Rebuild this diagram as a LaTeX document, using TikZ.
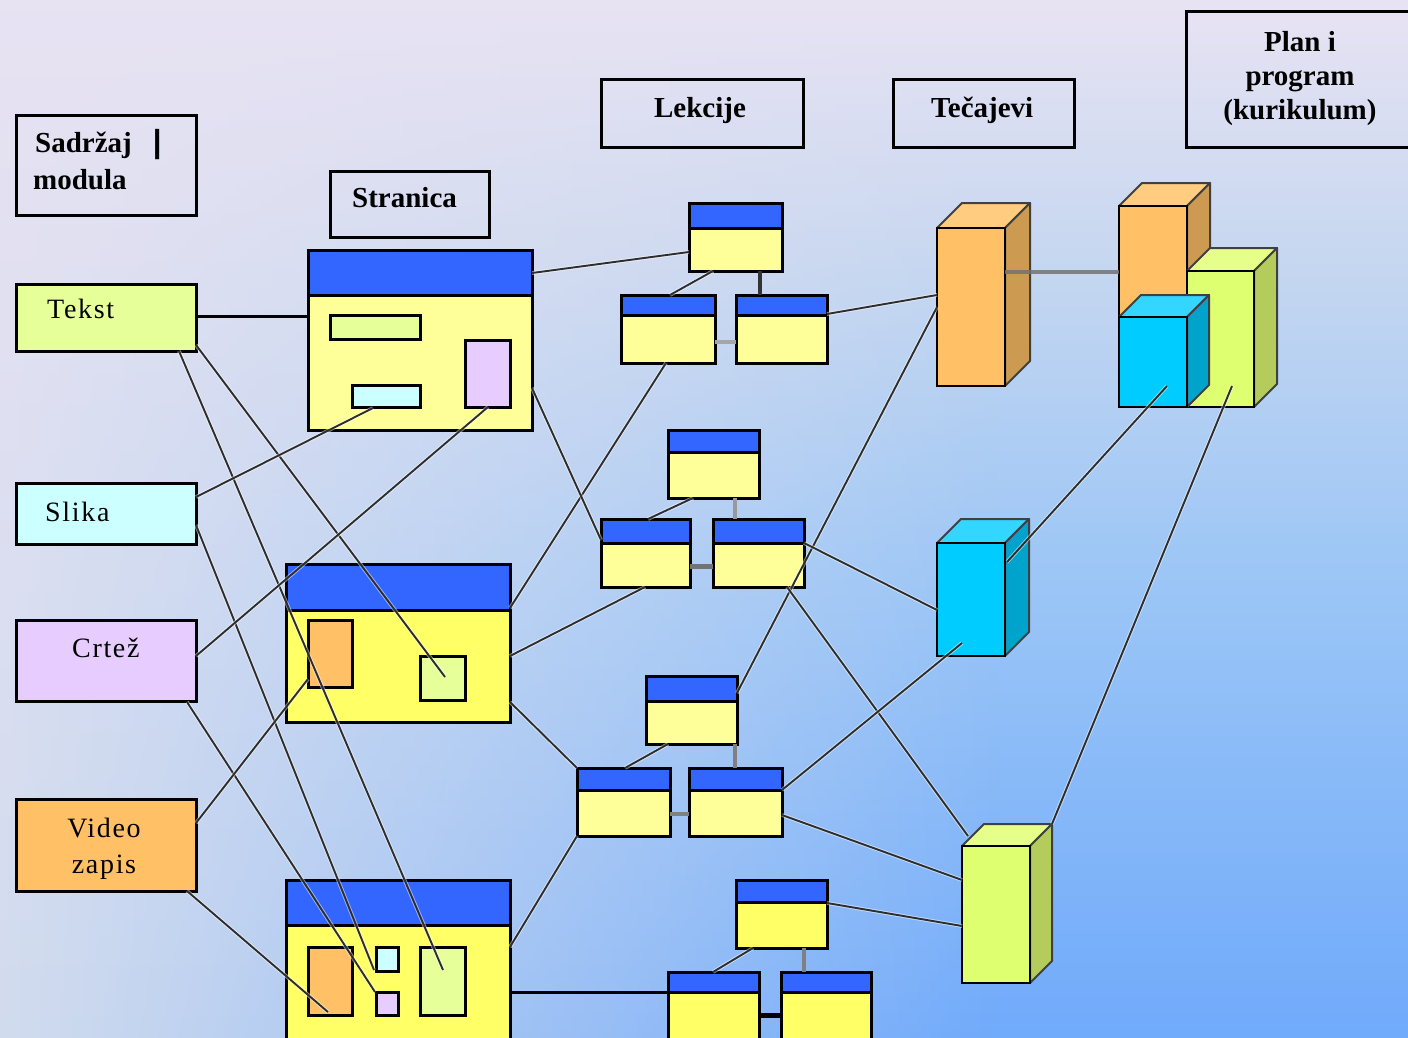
\documentclass[tikz,border=0pt]{standalone}
\usepackage{fontspec}
\setmainfont{Liberation Serif}
\newfontfamily\lblfont[LetterSpace=6]{Liberation Serif}
\usetikzlibrary{calc,fadings}
\definecolor{bgA}{HTML}{E8E3F3}
\definecolor{bgB}{HTML}{C6D7F0}
\definecolor{bgC}{HTML}{9CC6F6}
\definecolor{bgD}{HTML}{70AAFB}
\definecolor{bgL}{HTML}{D2DCEE}
\definecolor{hdrblue}{HTML}{3366FF}
\definecolor{yelA}{HTML}{FFFF99}
\definecolor{yelB}{HTML}{FFFF66}
\definecolor{lgreen}{HTML}{E6FF99}
\definecolor{lcyan}{HTML}{CCFFFF}
\definecolor{llav}{HTML}{E6CCFF}
\definecolor{orng}{HTML}{FFC066}
\definecolor{orTop}{HTML}{FFCC80}
\definecolor{orSide}{HTML}{CC9A50}
\definecolor{cyFront}{HTML}{00CCFF}
\definecolor{cyTop}{HTML}{33D6FF}
\definecolor{cySide}{HTML}{00A3CC}
\definecolor{grFront}{HTML}{DDFF70}
\definecolor{grTop}{HTML}{E6FF8A}
\definecolor{grSide}{HTML}{B3CC5C}
\definecolor{wirec}{HTML}{2E2E2E}
\pgfdeclareverticalshading{bgshade}{100bp}{color(0bp)=(bgD); color(25bp)=(bgD); color(47.5bp)=(bgC); color(62.5bp)=(bgB); color(75bp)=(bgA); color(100bp)=(bgA)}
\tikzset{
  frame/.style={draw=black, line width=3, inner sep=0, outer sep=0, anchor=north west},
  hdrtxt/.style={font=\bfseries\fontsize{29}{34}\selectfont, inner sep=0},
  lbltxt/.style={font=\lblfont\fontsize{28}{36}\selectfont, inner sep=0},
  wire/.style={draw=wirec, line width=1.9, preaction={draw=white, draw opacity=0.5, line width=3.8}},
  thickline/.style={draw=black, line width=3},
  facet/.style={draw=black!75, line width=2, line join=round},
}
\newcommand\boxnode[6][]{\node[frame,minimum width={#5-#3},minimum height={#6-#4},#1] (#2) at (#3,#4) {};}
\newcommand\pagebox[7]{\boxnode[fill=#7]{#1}{#2}{#3}{#4}{#5}\boxnode[fill=hdrblue]{#1h}{#2}{#3}{#4}{#6}}
\newcommand\cuboid[9]{%
  \fill[#8, facet] (#2,#3) -- ({#2+#6},{#3-#6}) -- ({#4+#6},{#3-#6}) -- (#4,#3) -- cycle;
  \fill[#9, facet] (#4,#3) -- ({#4+#6},{#3-#6}) -- ({#4+#6},{#5-#6}) -- (#4,#5) -- cycle;
  \boxnode[fill=#7, line width=2.5]{#1}{#2}{#3}{#4}{#5}}
\begin{document}
\begin{tikzpicture}[x=1pt,y=-1pt]
\useasboundingbox (0,0) rectangle (1408,1038);
% background
\shade[shading=bgshade] (0,0) rectangle (1408,1038);
\shade[top color=bgA, bottom color=bgL, path fading=east] (0,0) rectangle (1000,1038);

% header boxes
\boxnode{H1}{16}{116}{196}{215}
\boxnode{H2}{330}{171}{489}{237}
\boxnode{H3}{601}{80}{803}{148}
\boxnode{H4}{893}{80}{1074}{148}
\boxnode{H5}{1186}{12}{1420}{148}
\node[hdrtxt, anchor=base west] (tSad) at (35,153) {Sadržaj\hspace{19pt}\scalebox{2}[1.15]{|}};
\node[hdrtxt, anchor=base west] (tMod) at (33,189) {modula};
\node[hdrtxt, anchor=base west] (tStr) at (352,207) {Stranica};
\node[hdrtxt, anchor=base] (tLek) at (700,118) {Lekcije};
\node[hdrtxt, anchor=base west] (tTec) at (931,118) {Tečajevi};
\node[hdrtxt, align=center] (tPlan) at (1300,79) {Plan i\\program\\(kurikulum)};

% content type boxes
\boxnode[fill=lgreen]{Tekst}{16}{284}{196}{351}
\boxnode[fill=lcyan]{Slika}{16}{483}{196}{544}
\boxnode[fill=llav]{Crtez}{16}{620}{196}{701}
\boxnode[fill=orng]{Video}{16}{799}{196}{891}
\node[lbltxt, anchor=base west] (tTek) at (47,318) {Tekst};
\node[lbltxt, anchor=base west] (tSli) at (45,521) {Slika};
\node[lbltxt, anchor=base west] (tCrt) at (72,657) {Crtež};
\node[lbltxt, align=center] (tVid) at (104,849) {Video\\zapis};

% pages
\pagebox{P1}{308}{250}{532}{430}{295}{yelA}
\boxnode[fill=lgreen]{P1g}{330}{315}{420}{339}
\boxnode[fill=lcyan]{P1c}{352}{385}{420}{407}
\boxnode[fill=llav]{P1l}{465}{340}{510}{407}
\pagebox{P2}{286}{564}{510}{722}{610}{yelB}
\boxnode[fill=orng]{P2o}{308}{620}{352}{687}
\boxnode[fill=lgreen]{P2g}{420}{656}{465}{700}
\pagebox{P3}{286}{880}{510}{1040}{925}{yelB}
\boxnode[fill=orng]{P3o}{308}{947}{352}{1015}
\boxnode[fill=lcyan]{P3c}{376}{947}{398}{971}
\boxnode[fill=llav]{P3l}{376}{992}{398}{1015}
\boxnode[fill=lgreen]{P3g}{420}{947}{465}{1015}

% lessons
\pagebox{L1t}{689}{203}{782}{271}{228}{yelA}
\pagebox{L1a}{621}{295}{715}{363}{315}{yelA}
\pagebox{L1b}{736}{295}{827}{363}{315}{yelA}
\pagebox{L2t}{668}{430}{759}{498}{452}{yelA}
\pagebox{L2a}{601}{519}{690}{587}{543}{yelA}
\pagebox{L2b}{713}{519}{804}{587}{543}{yelA}
\pagebox{L3t}{646}{676}{737}{744}{701}{yelA}
\pagebox{L3a}{577}{768}{670}{836}{790}{yelA}
\pagebox{L3b}{689}{768}{782}{836}{790}{yelA}
\pagebox{L4t}{736}{880}{827}{948}{902}{yelB}
\pagebox{L4a}{668}{972}{759}{1040}{992}{yelB}
\pagebox{L4b}{781}{972}{871}{1040}{992}{yelB}

% lesson internal links
\draw[draw=black!80, line width=4] ($(L1t.north west)+(71,68)$) -- ($(L1b.north west)+(24,0)$);
\draw[draw=black!35, line width=4] ($(L1a.north west)+(94,47)$) -- ($(L1b.north west)+(0,47)$);
\draw[wire] ($(L1t.north west)+(24,68)$) -- ($(L1a.north west)+(49,0)$);
\draw[draw=black!40, line width=4] ($(L2t.north west)+(67,68)$) -- ($(L2b.north west)+(22,0)$);
\draw[draw=black!55, line width=5] ($(L2a.north west)+(89,47)$) -- ($(L2b.north west)+(0,47)$);
\draw[wire] ($(L2t.north west)+(25,68)$) -- ($(L2a.north west)+(47,0)$);
\draw[draw=black!50, line width=4] ($(L3t.north west)+(89,68)$) -- ($(L3b.north west)+(46,0)$);
\draw[draw=black!50, line width=4] ($(L3a.north west)+(93,46)$) -- ($(L3b.north west)+(0,46)$);
\draw[wire] ($(L3t.north west)+(22,68)$) -- ($(L3a.north west)+(48,0)$);
\draw[draw=black!50, line width=4] ($(L4t.north west)+(68,68)$) -- ($(L4b.north west)+(23,0)$);
\draw[draw=black, line width=5] ($(L4a.north west)+(91,43)$) -- ($(L4b.north west)+(0,43)$);
\draw[wire] ($(L4t.north west)+(17,68)$) -- ($(L4a.north west)+(45,0)$);

% courses (3D boxes)
\cuboid{T1}{937}{228}{1005}{386}{25}{orng}{orTop}{orSide}
\cuboid{T2}{937}{543}{1005}{656}{24}{cyFront}{cyTop}{cySide}
\cuboid{T3}{962}{846}{1030}{983}{22}{grFront}{grTop}{grSide}
% curriculum
\cuboid{C1}{1119}{206}{1187}{407}{23}{orng}{orTop}{orSide}
\cuboid{C2}{1187}{271}{1254}{407}{23}{grFront}{grTop}{grSide}
\cuboid{C3}{1119}{317}{1187}{407}{22}{cyFront}{cyTop}{cySide}
\draw[draw=black!55, line width=4, opacity=0.85] ($(T1.north west)+(68,44)$) -- ($(C1.north west)+(0,66)$);

% connectors
\draw[thickline] ($(Tekst.north west)+(180,32)$) -- ($(P1.north west)+(0,66)$);
\draw[thickline] ($(P3.north west)+(224,112)$) -- ($(L4a.north west)+(0,20)$);
\draw[wire] ($(P1.north west)+(224,23)$) -- ($(L1t.north west)+(0,49)$);
\draw[wire] ($(L1b.north west)+(91,19)$) -- ($(T1.north west)+(0,67)$);
\draw[wire] ($(L1a.north west)+(45,68)$) -- ($(P2.north west)+(224,44)$);
\draw[wire] ($(T1.north west)+(0,79)$) -- ($(L3t.north west)+(91,17)$);
\draw[wire] ($(P1.north west)+(224,138)$) -- ($(L2a.north west)+(0,21)$);
\draw[wire] ($(L2b.north west)+(91,24)$) -- ($(T2.north west)+(0,67)$);
\draw[wire] ($(L2b.north west)+(74,68)$) -- ($(T3.north west)+(6,-10)$);
\draw[wire] ($(T2.north west)+(25,100)$) -- ($(L3b.north west)+(93,22)$);
\draw[wire] ($(L3b.north west)+(93,47)$) -- ($(T3.north west)+(0,34)$);
\draw[wire] ($(L4t.north west)+(91,23)$) -- ($(T3.north west)+(0,80)$);
\draw[wire] ($(T3.north west)+(90,-22)$) -- ($(C2.north west)+(45,115)$);
\draw[wire] ($(T2.north west)+(70,19)$) -- ($(C3.north west)+(48,69)$);
\draw[wire] ($(Tekst.north west)+(180,61)$) -- ($(P2g.north west)+(25,21)$);
\draw[wire] ($(Tekst.north west)+(163,67)$) -- ($(P3g.north west)+(23,23)$);
\draw[wire] ($(Slika.north west)+(180,14)$) -- ($(P1c.north west)+(21,23)$);
\draw[wire] ($(Slika.north west)+(180,42)$) -- ($(P3c.north west)+(-2,23)$);
\draw[wire] ($(Crtez.north west)+(180,36)$) -- ($(P1l.north west)+(23,67)$);
\draw[wire] ($(Crtez.north west)+(171,82)$) -- ($(P3l.north west)+(-1,0)$);
\draw[wire] ($(Video.north west)+(180,24)$) -- ($(P2o.north west)+(0,59)$);
\draw[wire] ($(Video.north west)+(171,92)$) -- ($(P3o.north west)+(20,65)$);
\draw[wire] ($(P2.north west)+(224,138)$) -- ($(L3a.north west)+(0,0)$);
\draw[wire] ($(P2.north west)+(224,92)$) -- ($(L2a.north west)+(44,68)$);
\draw[wire] ($(P3.north west)+(224,67)$) -- ($(L3a.north west)+(0,68)$);
\end{tikzpicture}
\end{document}
